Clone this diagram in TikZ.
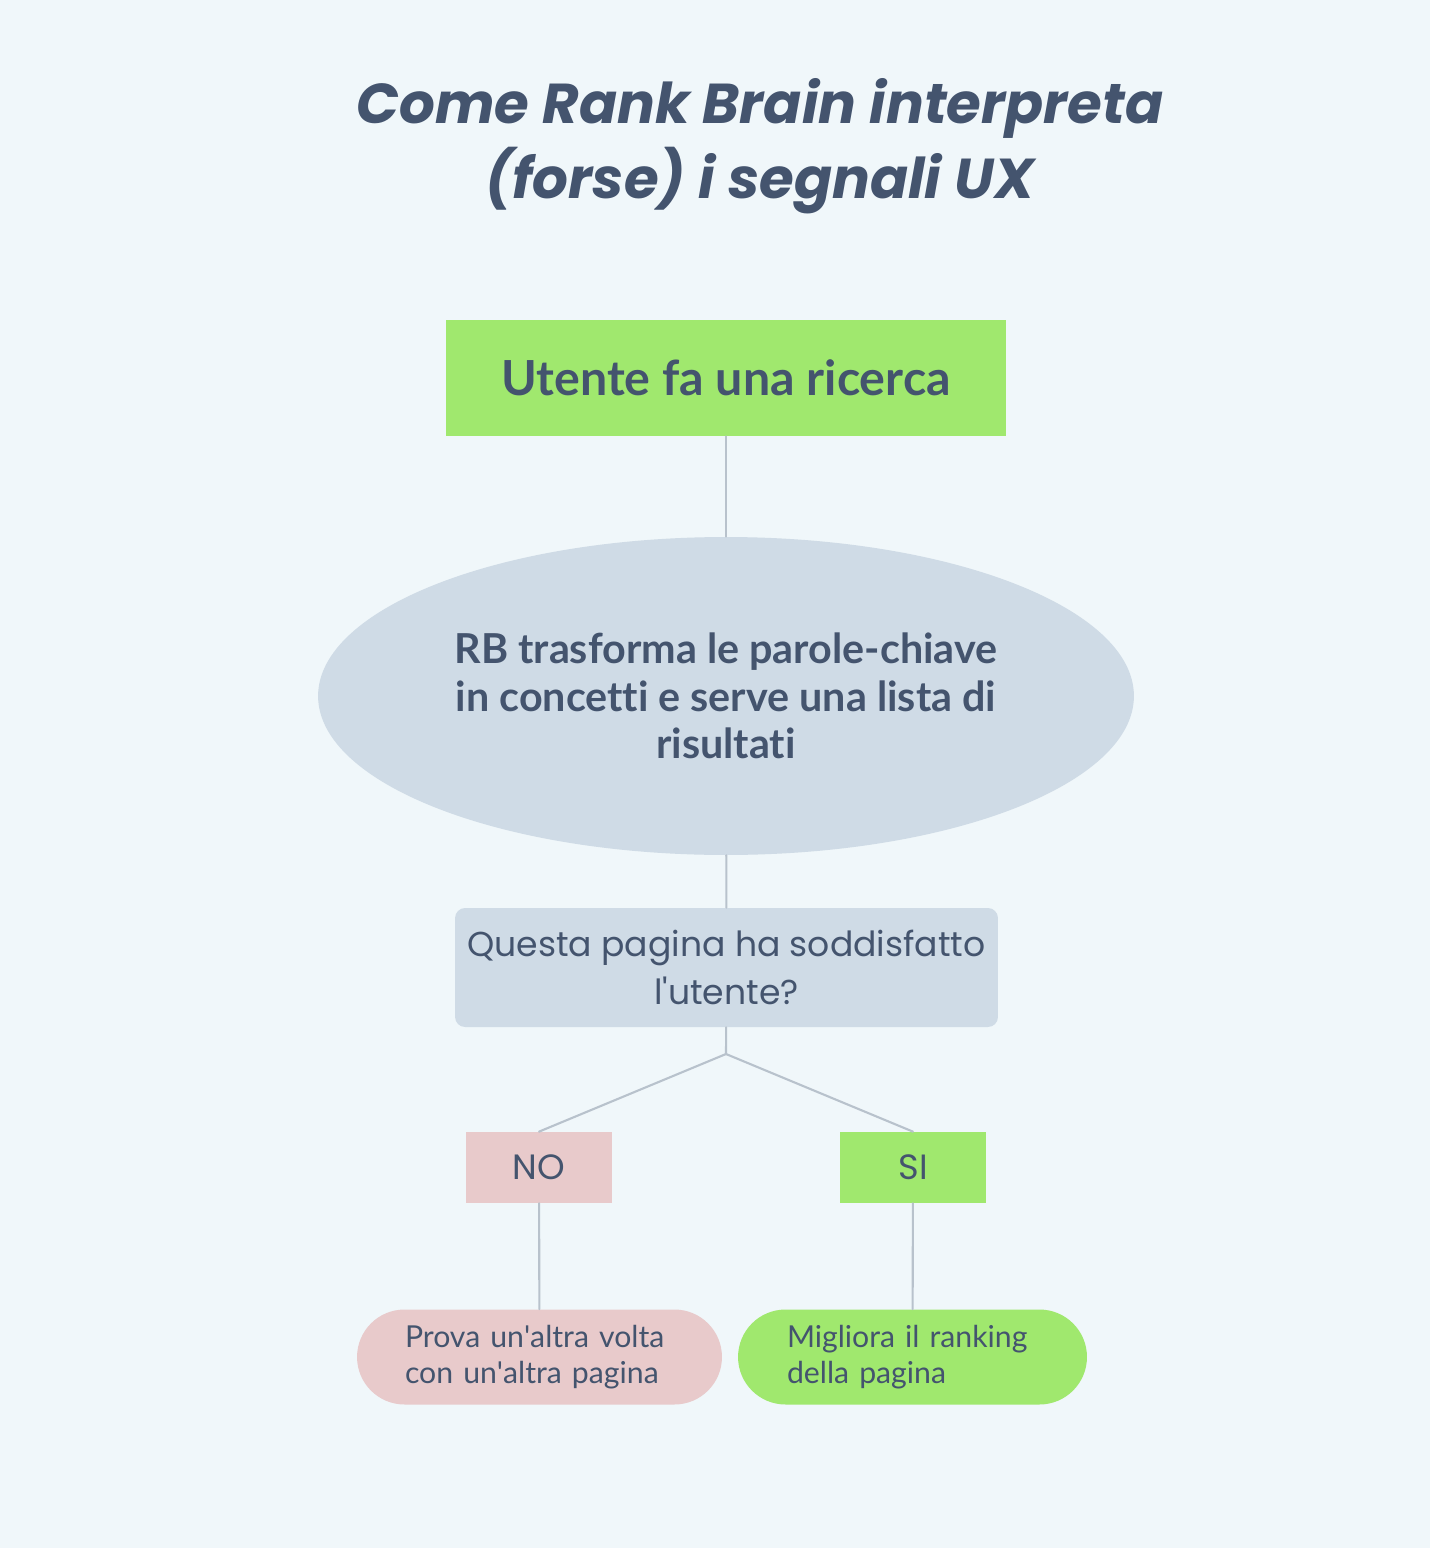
\documentclass[tikz,border=0pt]{standalone}
\usepackage{fontspec}
\setmainfont[Ligatures={NoCommon}]{Lato}
\newfontfamily\titlefont{Poppins}
\usetikzlibrary{shapes.geometric}
\definecolor{bgcol}{HTML}{F0F7FA}
\definecolor{inkcol}{HTML}{44546E}
\definecolor{greencol}{HTML}{A0E86E}
\definecolor{greycol}{HTML}{CFDBE6}
\definecolor{pinkcol}{HTML}{E8CACB}
\definecolor{linecol}{HTML}{B8C2CC}
\begin{document}
\begin{tikzpicture}[x=0.02cm, y=-0.02cm, line join=round, line cap=round,
	box/.style={draw=none, inner sep=0pt, text=inkcol, align=center},
	link/.style={draw=linecol, line width=1.2pt}]
	\fill[bgcol] (0,0) rectangle (1430,1548);
	\useasboundingbox (0,0) rectangle (1430,1548);
	\coordinate (T) at (760,146);
	\coordinate (S) at (726,378);
	\coordinate (E) at (726,696);
	\coordinate (Q) at (726.5,967.5);
	\coordinate (J) at (726,1054);
	\coordinate (N) at (539,1167.5);
	\coordinate (Y) at (913,1167.5);
	\coordinate (P) at (539.5,1357);
	\coordinate (M) at (912.5,1357);
	\node[box, font=\titlefont\bfseries\itshape\fontsize{32}{42.5}\selectfont] (title) at (T) {Come Rank Brain interpreta\\(forse) i segnali UX};
	\node[box, fill=greencol, minimum width=11.2cm, minimum height=2.32cm, font=\bfseries\fontsize{27.5}{30}\selectfont] (start) at (S) {Utente fa una ricerca};
	\node[box, ellipse, fill=greycol, minimum width=16.32cm, minimum height=6.36cm, font=\bfseries\fontsize{23.5}{27.2}\selectfont] (rb) at (E) {RB trasforma le parole-chiave\\in concetti e serve una lista di\\risultati};
	\node[box, fill=greycol, rounded corners=0.2cm, minimum width=10.86cm, minimum height=2.38cm, font=\titlefont\fontsize{19.7}{27.8}\selectfont] (ask) at (Q) {Questa pagina ha soddisfatto\\l\textquotesingle utente?};
	\node[box, fill=pinkcol, minimum width=2.92cm, minimum height=1.42cm, font=\titlefont\fontsize{20}{23}\selectfont] (no) at (N) {NO};
	\node[box, fill=greencol, minimum width=2.92cm, minimum height=1.42cm, font=\titlefont\fontsize{20}{23}\selectfont] (si) at (Y) {SI};
	\node[box, fill=pinkcol, rounded corners=0.95cm, minimum width=7.3cm, minimum height=1.9cm, text width=5.38cm, align=left, font=\fontsize{17.2}{20.4}\selectfont] (retry) at (P) {Prova un\textquotesingle altra volta\\con un\textquotesingle altra pagina};
	\node[box, fill=greencol, rounded corners=0.95cm, minimum width=6.98cm, minimum height=1.9cm, text width=5.02cm, align=left, font=\fontsize{17.2}{20.4}\selectfont] (rank) at (M) {Migliora il ranking\\della pagina};
	\draw[link] (start) -- (rb);
	\draw[link] (rb) -- (ask);
	\draw[link] (ask) -- (J);
	\draw[link] (J) -- (no.north);
	\draw[link] (J) -- (si.north);
	\draw[link] (no) -- (retry);
	\draw[link] (si) -- (rank);
\end{tikzpicture}
\end{document}
